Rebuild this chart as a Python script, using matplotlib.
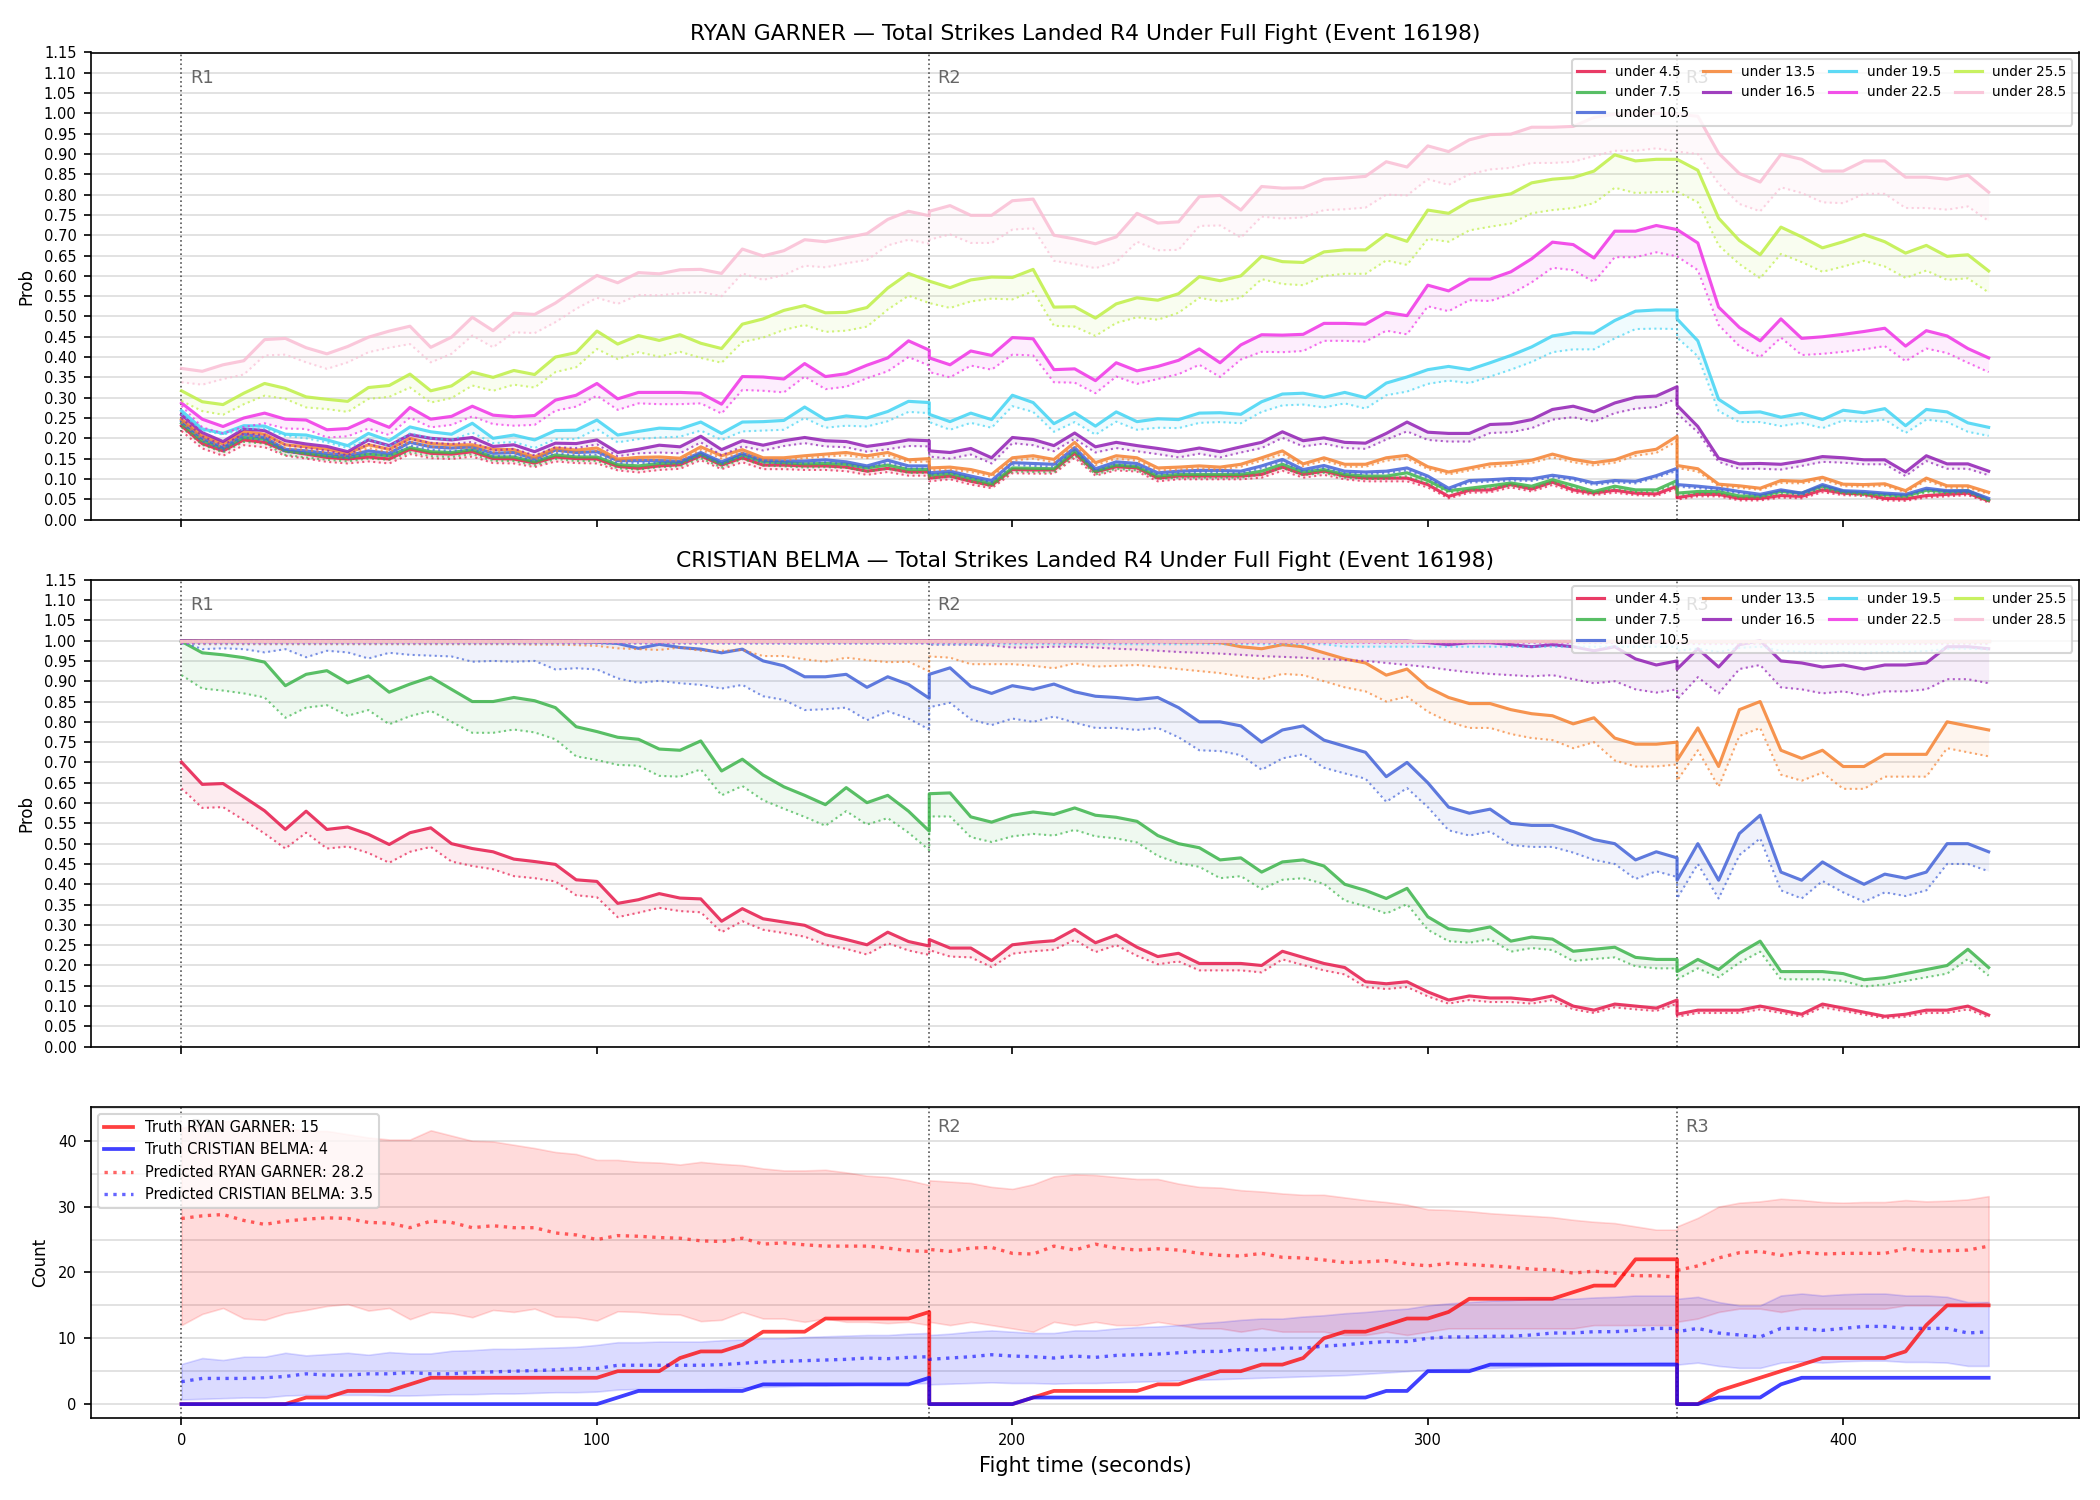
import matplotlib
matplotlib.use("Agg")
import matplotlib.pyplot as plt
from matplotlib.ticker import MultipleLocator
from matplotlib.transforms import blended_transform_factory

# Eixo de tempo: cada round reinicia no limite, por isso 180 e 360 aparecem duas vezes
t = list(range(0, 181, 5)) + list(range(180, 361, 5)) + list(range(360, 436, 5))
round_starts = [0, 180, 360]
round_names = ['R1', 'R2', 'R3']

line_labels = ['under 4.5', 'under 7.5', 'under 10.5', 'under 13.5', 'under 16.5',
               'under 19.5', 'under 22.5', 'under 25.5', 'under 28.5']
line_colors = ['#e6194b', '#3cb44b', '#4363d8', '#f58231', '#911eb4',
               '#42d4f4', '#f032e6', '#bfef45', '#fabed4']

# ---------------- RYAN GARNER (linha cheia = alto, pontilhada = baixo) ----------------
garner_u45 = [
    0.231, 0.187, 0.169, 0.196, 0.190, 0.169, 0.161, 0.153, 0.149, 0.154, 0.149, 0.173, 0.163, 0.161, 0.167, 0.150, 0.149, 0.139, 0.154, 0.150, 0.149, 0.131, 0.126, 0.132, 0.135, 0.157, 0.134, 0.152, 0.134, 0.134, 0.132, 0.132, 0.129, 0.119, 0.126, 0.117, 0.117,
    0.102, 0.107, 0.094, 0.084, 0.123, 0.122, 0.122, 0.163, 0.117, 0.130, 0.127, 0.102, 0.107, 0.107, 0.107, 0.107, 0.111, 0.129, 0.111, 0.119, 0.107, 0.102, 0.102, 0.102, 0.086, 0.057, 0.072, 0.073, 0.086, 0.075, 0.092, 0.073, 0.065, 0.072, 0.065, 0.063, 0.082,
    0.054, 0.062, 0.062, 0.052, 0.052, 0.059, 0.057, 0.073, 0.065, 0.063, 0.052, 0.051, 0.059, 0.062, 0.065, 0.046]
garner_u45_lo = [
    0.218, 0.175, 0.157, 0.183, 0.178, 0.157, 0.150, 0.142, 0.138, 0.143, 0.138, 0.161, 0.151, 0.149, 0.155, 0.139, 0.138, 0.129, 0.143, 0.139, 0.138, 0.121, 0.116, 0.122, 0.125, 0.146, 0.124, 0.141, 0.124, 0.124, 0.122, 0.122, 0.119, 0.110, 0.117, 0.108, 0.108,
    0.094, 0.099, 0.086, 0.077, 0.114, 0.113, 0.113, 0.152, 0.108, 0.121, 0.118, 0.094, 0.099, 0.099, 0.099, 0.099, 0.103, 0.120, 0.103, 0.110, 0.099, 0.094, 0.094, 0.094, 0.079, 0.052, 0.066, 0.067, 0.079, 0.069, 0.085, 0.067, 0.060, 0.066, 0.060, 0.058, 0.076,
    0.049, 0.057, 0.057, 0.047, 0.047, 0.054, 0.052, 0.067, 0.060, 0.058, 0.047, 0.046, 0.054, 0.057, 0.060, 0.042]
garner_u75 = [
    0.237, 0.194, 0.175, 0.202, 0.198, 0.169, 0.163, 0.157, 0.153, 0.161, 0.157, 0.177, 0.167, 0.165, 0.172, 0.154, 0.154, 0.142, 0.159, 0.154, 0.154, 0.135, 0.132, 0.138, 0.140, 0.161, 0.137, 0.159, 0.142, 0.140, 0.137, 0.138, 0.136, 0.127, 0.134, 0.123, 0.123,
    0.109, 0.113, 0.101, 0.088, 0.127, 0.126, 0.125, 0.169, 0.119, 0.134, 0.130, 0.107, 0.111, 0.111, 0.111, 0.111, 0.119, 0.136, 0.117, 0.123, 0.111, 0.107, 0.107, 0.115, 0.096, 0.071, 0.077, 0.083, 0.090, 0.082, 0.098, 0.084, 0.069, 0.082, 0.073, 0.073, 0.096,
    0.065, 0.069, 0.069, 0.058, 0.058, 0.069, 0.065, 0.082, 0.069, 0.065, 0.061, 0.058, 0.072, 0.069, 0.071, 0.048]
garner_u75_lo = [
    0.227, 0.184, 0.165, 0.191, 0.187, 0.159, 0.153, 0.147, 0.143, 0.150, 0.147, 0.166, 0.156, 0.154, 0.161, 0.144, 0.144, 0.133, 0.149, 0.144, 0.144, 0.126, 0.123, 0.129, 0.131, 0.151, 0.128, 0.149, 0.133, 0.131, 0.128, 0.129, 0.127, 0.118, 0.125, 0.115, 0.115,
    0.102, 0.105, 0.094, 0.082, 0.118, 0.117, 0.116, 0.158, 0.111, 0.125, 0.121, 0.100, 0.103, 0.103, 0.103, 0.103, 0.111, 0.127, 0.109, 0.115, 0.103, 0.100, 0.100, 0.107, 0.089, 0.066, 0.072, 0.077, 0.084, 0.076, 0.091, 0.078, 0.064, 0.076, 0.068, 0.068, 0.089,
    0.060, 0.064, 0.064, 0.054, 0.054, 0.064, 0.060, 0.076, 0.064, 0.060, 0.057, 0.054, 0.067, 0.064, 0.066, 0.045]
garner_u105 = [
    0.243, 0.200, 0.177, 0.210, 0.202, 0.173, 0.169, 0.163, 0.157, 0.169, 0.163, 0.190, 0.179, 0.176, 0.179, 0.163, 0.165, 0.149, 0.171, 0.165, 0.167, 0.145, 0.145, 0.145, 0.143, 0.165, 0.142, 0.163, 0.146, 0.144, 0.144, 0.147, 0.142, 0.132, 0.146, 0.132, 0.132,
    0.115, 0.119, 0.107, 0.096, 0.140, 0.138, 0.136, 0.177, 0.125, 0.142, 0.138, 0.115, 0.119, 0.121, 0.121, 0.119, 0.132, 0.148, 0.123, 0.133, 0.119, 0.117, 0.119, 0.127, 0.107, 0.077, 0.096, 0.098, 0.101, 0.100, 0.109, 0.102, 0.090, 0.096, 0.094, 0.108, 0.126,
    0.086, 0.082, 0.077, 0.069, 0.062, 0.073, 0.065, 0.086, 0.071, 0.069, 0.065, 0.062, 0.077, 0.071, 0.071, 0.052]
garner_u105_lo = [
    0.236, 0.193, 0.170, 0.202, 0.195, 0.166, 0.162, 0.156, 0.150, 0.162, 0.156, 0.182, 0.172, 0.169, 0.172, 0.156, 0.158, 0.143, 0.164, 0.158, 0.160, 0.139, 0.139, 0.139, 0.137, 0.158, 0.136, 0.156, 0.140, 0.138, 0.138, 0.141, 0.136, 0.126, 0.140, 0.126, 0.126,
    0.110, 0.114, 0.102, 0.091, 0.134, 0.132, 0.130, 0.170, 0.119, 0.136, 0.132, 0.110, 0.114, 0.116, 0.116, 0.114, 0.126, 0.142, 0.117, 0.127, 0.114, 0.112, 0.114, 0.121, 0.102, 0.073, 0.091, 0.093, 0.096, 0.095, 0.104, 0.097, 0.085, 0.091, 0.089, 0.103, 0.120,
    0.081, 0.077, 0.073, 0.065, 0.058, 0.069, 0.061, 0.081, 0.067, 0.065, 0.061, 0.058, 0.073, 0.067, 0.067, 0.049]
garner_u135 = [
    0.247, 0.206, 0.186, 0.217, 0.210, 0.184, 0.179, 0.173, 0.163, 0.184, 0.173, 0.200, 0.187, 0.184, 0.184, 0.173, 0.172, 0.154, 0.176, 0.171, 0.176, 0.149, 0.153, 0.154, 0.151, 0.179, 0.157, 0.172, 0.152, 0.152, 0.157, 0.161, 0.165, 0.157, 0.165, 0.147, 0.150,
    0.127, 0.129, 0.123, 0.111, 0.152, 0.157, 0.148, 0.190, 0.140, 0.157, 0.152, 0.127, 0.129, 0.132, 0.129, 0.136, 0.152, 0.169, 0.137, 0.152, 0.136, 0.136, 0.152, 0.158, 0.130, 0.117, 0.127, 0.137, 0.140, 0.146, 0.161, 0.148, 0.140, 0.147, 0.165, 0.173, 0.205,
    0.133, 0.125, 0.087, 0.083, 0.077, 0.096, 0.094, 0.104, 0.087, 0.086, 0.088, 0.071, 0.102, 0.083, 0.083, 0.067]
garner_u135_lo = [
    0.240, 0.198, 0.178, 0.209, 0.202, 0.176, 0.171, 0.165, 0.156, 0.176, 0.166, 0.192, 0.179, 0.177, 0.177, 0.166, 0.165, 0.148, 0.169, 0.164, 0.169, 0.143, 0.147, 0.147, 0.145, 0.172, 0.150, 0.165, 0.146, 0.146, 0.151, 0.155, 0.158, 0.151, 0.158, 0.141, 0.143,
    0.121, 0.123, 0.117, 0.105, 0.145, 0.150, 0.141, 0.182, 0.134, 0.150, 0.145, 0.121, 0.123, 0.126, 0.123, 0.130, 0.145, 0.161, 0.131, 0.145, 0.130, 0.130, 0.145, 0.150, 0.124, 0.111, 0.121, 0.130, 0.133, 0.139, 0.153, 0.141, 0.133, 0.140, 0.157, 0.164, 0.193,
    0.127, 0.118, 0.082, 0.078, 0.073, 0.090, 0.089, 0.098, 0.082, 0.081, 0.083, 0.067, 0.096, 0.078, 0.078, 0.063]
garner_u165 = [
    0.258, 0.214, 0.192, 0.223, 0.219, 0.194, 0.186, 0.180, 0.167, 0.196, 0.182, 0.209, 0.200, 0.196, 0.202, 0.180, 0.184, 0.167, 0.188, 0.187, 0.196, 0.165, 0.173, 0.183, 0.179, 0.205, 0.172, 0.194, 0.183, 0.194, 0.202, 0.194, 0.192, 0.180, 0.187, 0.196, 0.194,
    0.169, 0.165, 0.175, 0.152, 0.202, 0.197, 0.182, 0.213, 0.179, 0.190, 0.182, 0.175, 0.167, 0.176, 0.167, 0.179, 0.190, 0.216, 0.194, 0.201, 0.190, 0.188, 0.212, 0.240, 0.215, 0.212, 0.212, 0.234, 0.236, 0.246, 0.271, 0.279, 0.265, 0.287, 0.301, 0.304, 0.327,
    0.281, 0.229, 0.151, 0.137, 0.138, 0.136, 0.144, 0.155, 0.152, 0.147, 0.147, 0.117, 0.157, 0.137, 0.137, 0.119]
garner_u165_lo = [
    0.250, 0.205, 0.183, 0.212, 0.208, 0.184, 0.176, 0.170, 0.158, 0.186, 0.172, 0.198, 0.189, 0.186, 0.191, 0.170, 0.174, 0.158, 0.178, 0.176, 0.185, 0.156, 0.163, 0.165, 0.163, 0.190, 0.158, 0.180, 0.170, 0.181, 0.188, 0.180, 0.178, 0.167, 0.173, 0.181, 0.180,
    0.155, 0.150, 0.160, 0.138, 0.188, 0.183, 0.168, 0.199, 0.165, 0.176, 0.168, 0.161, 0.153, 0.162, 0.153, 0.165, 0.176, 0.201, 0.180, 0.187, 0.176, 0.174, 0.197, 0.217, 0.196, 0.192, 0.192, 0.213, 0.215, 0.225, 0.246, 0.252, 0.241, 0.262, 0.273, 0.277, 0.298,
    0.261, 0.215, 0.142, 0.125, 0.125, 0.123, 0.132, 0.142, 0.140, 0.136, 0.136, 0.107, 0.144, 0.125, 0.125, 0.109]
garner_u195 = [
    0.268, 0.223, 0.212, 0.231, 0.230, 0.210, 0.208, 0.196, 0.182, 0.212, 0.194, 0.228, 0.216, 0.210, 0.237, 0.200, 0.208, 0.196, 0.219, 0.220, 0.245, 0.208, 0.217, 0.225, 0.223, 0.240, 0.212, 0.240, 0.241, 0.244, 0.277, 0.246, 0.255, 0.250, 0.266, 0.291, 0.288,
    0.259, 0.241, 0.262, 0.246, 0.306, 0.288, 0.236, 0.263, 0.230, 0.265, 0.241, 0.248, 0.246, 0.262, 0.263, 0.259, 0.290, 0.309, 0.311, 0.301, 0.313, 0.300, 0.336, 0.351, 0.369, 0.377, 0.369, 0.386, 0.404, 0.425, 0.452, 0.460, 0.459, 0.490, 0.513, 0.516, 0.516,
    0.494, 0.440, 0.296, 0.263, 0.265, 0.252, 0.261, 0.246, 0.269, 0.263, 0.273, 0.231, 0.271, 0.265, 0.238, 0.227]
garner_u195_lo = [
    0.260, 0.220, 0.209, 0.223, 0.224, 0.206, 0.200, 0.190, 0.176, 0.198, 0.180, 0.212, 0.200, 0.196, 0.214, 0.188, 0.191, 0.176, 0.198, 0.198, 0.223, 0.190, 0.198, 0.202, 0.204, 0.219, 0.196, 0.217, 0.219, 0.221, 0.250, 0.226, 0.231, 0.229, 0.242, 0.265, 0.262,
    0.240, 0.221, 0.238, 0.226, 0.279, 0.265, 0.216, 0.240, 0.209, 0.241, 0.221, 0.226, 0.225, 0.238, 0.240, 0.237, 0.265, 0.281, 0.283, 0.276, 0.286, 0.273, 0.306, 0.315, 0.334, 0.342, 0.336, 0.352, 0.369, 0.388, 0.412, 0.419, 0.419, 0.446, 0.469, 0.470, 0.469,
    0.448, 0.402, 0.267, 0.240, 0.240, 0.230, 0.238, 0.225, 0.244, 0.240, 0.246, 0.213, 0.246, 0.240, 0.216, 0.206]
garner_u225 = [
    0.287, 0.247, 0.229, 0.250, 0.262, 0.247, 0.245, 0.221, 0.224, 0.247, 0.227, 0.276, 0.247, 0.254, 0.279, 0.257, 0.253, 0.256, 0.294, 0.306, 0.335, 0.297, 0.313, 0.313, 0.313, 0.311, 0.284, 0.352, 0.351, 0.346, 0.384, 0.352, 0.359, 0.380, 0.398, 0.440, 0.417,
    0.398, 0.381, 0.415, 0.404, 0.448, 0.445, 0.369, 0.371, 0.342, 0.386, 0.366, 0.377, 0.392, 0.420, 0.386, 0.430, 0.455, 0.454, 0.456, 0.483, 0.483, 0.481, 0.510, 0.502, 0.577, 0.563, 0.592, 0.592, 0.610, 0.642, 0.683, 0.677, 0.644, 0.710, 0.710, 0.724, 0.714,
    0.714, 0.681, 0.523, 0.473, 0.440, 0.494, 0.446, 0.450, 0.456, 0.463, 0.471, 0.427, 0.465, 0.452, 0.421, 0.398]
garner_u225_lo = [
    0.280, 0.227, 0.212, 0.228, 0.237, 0.224, 0.223, 0.202, 0.205, 0.224, 0.208, 0.251, 0.227, 0.233, 0.254, 0.235, 0.231, 0.233, 0.268, 0.278, 0.305, 0.270, 0.286, 0.284, 0.284, 0.286, 0.261, 0.319, 0.317, 0.313, 0.352, 0.321, 0.327, 0.348, 0.365, 0.400, 0.379,
    0.363, 0.350, 0.379, 0.369, 0.406, 0.404, 0.338, 0.337, 0.311, 0.352, 0.334, 0.346, 0.358, 0.381, 0.351, 0.394, 0.413, 0.412, 0.415, 0.440, 0.440, 0.438, 0.465, 0.456, 0.525, 0.513, 0.540, 0.538, 0.555, 0.584, 0.620, 0.614, 0.585, 0.646, 0.646, 0.658, 0.648,
    0.648, 0.614, 0.479, 0.427, 0.400, 0.448, 0.405, 0.408, 0.413, 0.419, 0.427, 0.390, 0.421, 0.410, 0.386, 0.363]
garner_u255 = [
    0.317, 0.290, 0.283, 0.311, 0.335, 0.323, 0.302, 0.296, 0.291, 0.325, 0.330, 0.358, 0.317, 0.329, 0.363, 0.350, 0.367, 0.357, 0.400, 0.411, 0.464, 0.432, 0.453, 0.441, 0.455, 0.434, 0.421, 0.481, 0.494, 0.515, 0.527, 0.509, 0.510, 0.522, 0.570, 0.606, 0.587,
    0.587, 0.571, 0.590, 0.597, 0.596, 0.616, 0.523, 0.524, 0.496, 0.531, 0.546, 0.540, 0.556, 0.598, 0.588, 0.600, 0.648, 0.635, 0.633, 0.659, 0.664, 0.664, 0.702, 0.685, 0.762, 0.754, 0.784, 0.794, 0.802, 0.829, 0.838, 0.842, 0.858, 0.898, 0.883, 0.887, 0.887,
    0.887, 0.860, 0.742, 0.687, 0.652, 0.720, 0.696, 0.669, 0.684, 0.702, 0.684, 0.656, 0.675, 0.648, 0.652, 0.612]
garner_u255_lo = [
    0.292, 0.267, 0.258, 0.284, 0.305, 0.297, 0.276, 0.272, 0.265, 0.297, 0.302, 0.325, 0.288, 0.299, 0.330, 0.317, 0.332, 0.325, 0.363, 0.375, 0.420, 0.395, 0.412, 0.401, 0.413, 0.398, 0.386, 0.437, 0.448, 0.467, 0.479, 0.462, 0.465, 0.475, 0.517, 0.551, 0.533,
    0.533, 0.521, 0.537, 0.544, 0.542, 0.562, 0.477, 0.475, 0.452, 0.484, 0.498, 0.492, 0.509, 0.546, 0.537, 0.546, 0.592, 0.580, 0.577, 0.600, 0.605, 0.605, 0.638, 0.627, 0.691, 0.684, 0.712, 0.721, 0.729, 0.754, 0.762, 0.767, 0.779, 0.817, 0.804, 0.806, 0.808,
    0.808, 0.781, 0.675, 0.629, 0.594, 0.654, 0.634, 0.610, 0.623, 0.637, 0.623, 0.595, 0.613, 0.590, 0.594, 0.559]
garner_u285 = [
    0.372, 0.365, 0.381, 0.391, 0.443, 0.446, 0.423, 0.408, 0.426, 0.449, 0.464, 0.476, 0.424, 0.449, 0.498, 0.465, 0.508, 0.505, 0.533, 0.568, 0.601, 0.583, 0.608, 0.605, 0.615, 0.616, 0.606, 0.666, 0.649, 0.662, 0.689, 0.684, 0.694, 0.704, 0.739, 0.759, 0.748,
    0.759, 0.773, 0.749, 0.749, 0.785, 0.789, 0.700, 0.691, 0.679, 0.696, 0.754, 0.730, 0.733, 0.795, 0.798, 0.762, 0.820, 0.816, 0.817, 0.838, 0.841, 0.845, 0.881, 0.868, 0.920, 0.906, 0.935, 0.948, 0.949, 0.966, 0.966, 0.968, 0.990, 0.998, 1.000, 1.000, 0.998,
    0.998, 0.993, 0.902, 0.852, 0.831, 0.899, 0.887, 0.858, 0.858, 0.883, 0.883, 0.843, 0.843, 0.838, 0.848, 0.806]
garner_u285_lo = [
    0.338, 0.332, 0.346, 0.357, 0.404, 0.406, 0.387, 0.371, 0.387, 0.412, 0.423, 0.432, 0.387, 0.408, 0.453, 0.424, 0.461, 0.459, 0.486, 0.519, 0.546, 0.531, 0.553, 0.552, 0.557, 0.560, 0.550, 0.606, 0.590, 0.602, 0.625, 0.621, 0.631, 0.639, 0.675, 0.689, 0.679,
    0.689, 0.702, 0.681, 0.681, 0.714, 0.717, 0.637, 0.629, 0.619, 0.634, 0.684, 0.663, 0.664, 0.723, 0.724, 0.694, 0.746, 0.741, 0.744, 0.762, 0.764, 0.768, 0.800, 0.798, 0.838, 0.824, 0.850, 0.862, 0.866, 0.878, 0.878, 0.881, 0.895, 0.908, 0.908, 0.914, 0.906,
    0.906, 0.900, 0.827, 0.777, 0.759, 0.818, 0.804, 0.781, 0.779, 0.802, 0.802, 0.767, 0.767, 0.763, 0.771, 0.735]

# ---------------- CRISTIAN BELMA ----------------
belma_u45 = [
    0.701, 0.646, 0.648, 0.615, 0.581, 0.535, 0.580, 0.535, 0.541, 0.523, 0.498, 0.527, 0.539, 0.500, 0.488, 0.480, 0.462, 0.456, 0.449, 0.411, 0.407, 0.353, 0.362, 0.377, 0.366, 0.364, 0.309, 0.340, 0.315, 0.307, 0.299, 0.276, 0.264, 0.251, 0.282, 0.259, 0.248,
    0.264, 0.243, 0.243, 0.212, 0.251, 0.257, 0.261, 0.289, 0.256, 0.275, 0.245, 0.222, 0.230, 0.205, 0.205, 0.205, 0.200, 0.235, 0.220, 0.205, 0.195, 0.160, 0.155, 0.160, 0.135, 0.115, 0.125, 0.120, 0.120, 0.115, 0.125, 0.100, 0.090, 0.105, 0.100, 0.095, 0.115,
    0.080, 0.090, 0.090, 0.090, 0.100, 0.090, 0.080, 0.105, 0.095, 0.085, 0.075, 0.080, 0.090, 0.090, 0.100, 0.078]
belma_u45_lo = [
    0.636, 0.588, 0.590, 0.558, 0.525, 0.488, 0.527, 0.488, 0.493, 0.477, 0.453, 0.480, 0.492, 0.456, 0.445, 0.437, 0.420, 0.415, 0.407, 0.373, 0.368, 0.319, 0.330, 0.342, 0.334, 0.331, 0.282, 0.309, 0.288, 0.280, 0.271, 0.251, 0.241, 0.227, 0.255, 0.237, 0.226,
    0.238, 0.222, 0.220, 0.196, 0.229, 0.235, 0.239, 0.263, 0.233, 0.250, 0.224, 0.203, 0.210, 0.188, 0.188, 0.188, 0.183, 0.215, 0.201, 0.188, 0.178, 0.147, 0.142, 0.147, 0.124, 0.106, 0.115, 0.110, 0.110, 0.106, 0.115, 0.092, 0.083, 0.097, 0.092, 0.088, 0.106,
    0.074, 0.083, 0.083, 0.083, 0.092, 0.083, 0.074, 0.097, 0.088, 0.079, 0.070, 0.074, 0.083, 0.083, 0.092, 0.072]
belma_u75 = [
    0.998, 0.970, 0.965, 0.958, 0.947, 0.889, 0.917, 0.926, 0.896, 0.913, 0.873, 0.893, 0.910, 0.880, 0.850, 0.850, 0.860, 0.852, 0.835, 0.788, 0.776, 0.762, 0.757, 0.733, 0.730, 0.753, 0.679, 0.708, 0.669, 0.640, 0.619, 0.596, 0.638, 0.601, 0.619, 0.580, 0.531,
    0.623, 0.625, 0.566, 0.553, 0.570, 0.578, 0.572, 0.588, 0.570, 0.565, 0.555, 0.520, 0.500, 0.490, 0.460, 0.465, 0.430, 0.455, 0.460, 0.445, 0.400, 0.385, 0.365, 0.390, 0.320, 0.290, 0.285, 0.295, 0.260, 0.270, 0.265, 0.235, 0.240, 0.245, 0.220, 0.215, 0.215,
    0.185, 0.215, 0.190, 0.230, 0.260, 0.185, 0.185, 0.185, 0.180, 0.165, 0.170, 0.180, 0.190, 0.200, 0.240, 0.195]
belma_u75_lo = [
    0.915, 0.882, 0.877, 0.870, 0.860, 0.810, 0.835, 0.841, 0.815, 0.829, 0.794, 0.814, 0.827, 0.800, 0.773, 0.773, 0.781, 0.774, 0.757, 0.715, 0.706, 0.694, 0.692, 0.667, 0.665, 0.683, 0.619, 0.642, 0.607, 0.586, 0.566, 0.544, 0.580, 0.547, 0.563, 0.527, 0.484,
    0.567, 0.567, 0.516, 0.504, 0.518, 0.524, 0.520, 0.534, 0.518, 0.513, 0.503, 0.470, 0.452, 0.443, 0.415, 0.420, 0.388, 0.411, 0.415, 0.401, 0.360, 0.346, 0.328, 0.351, 0.288, 0.260, 0.256, 0.265, 0.234, 0.243, 0.238, 0.211, 0.216, 0.220, 0.198, 0.193, 0.193,
    0.166, 0.193, 0.171, 0.207, 0.234, 0.166, 0.166, 0.166, 0.162, 0.148, 0.153, 0.162, 0.171, 0.180, 0.216, 0.175]
belma_u105 = [
    1.000, 0.999, 0.999, 0.999, 0.999, 0.999, 0.999, 0.999, 0.999, 0.999, 0.999, 0.999, 0.999, 0.999, 0.999, 0.999, 0.999, 0.998, 0.998, 0.998, 0.996, 0.993, 0.981, 0.991, 0.983, 0.979, 0.970, 0.979, 0.950, 0.938, 0.911, 0.911, 0.917, 0.885, 0.911, 0.892, 0.858,
    0.917, 0.933, 0.887, 0.870, 0.889, 0.880, 0.893, 0.874, 0.863, 0.860, 0.855, 0.860, 0.835, 0.800, 0.800, 0.790, 0.750, 0.780, 0.790, 0.755, 0.740, 0.725, 0.665, 0.700, 0.650, 0.590, 0.575, 0.585, 0.550, 0.545, 0.545, 0.530, 0.510, 0.500, 0.460, 0.480, 0.465,
    0.410, 0.500, 0.410, 0.525, 0.570, 0.430, 0.410, 0.455, 0.425, 0.400, 0.425, 0.415, 0.430, 0.500, 0.500, 0.480]
belma_u105_lo = [
    0.998, 0.979, 0.981, 0.979, 0.971, 0.979, 0.959, 0.975, 0.971, 0.956, 0.970, 0.965, 0.963, 0.961, 0.948, 0.950, 0.948, 0.950, 0.929, 0.932, 0.929, 0.907, 0.896, 0.901, 0.895, 0.891, 0.882, 0.891, 0.863, 0.854, 0.829, 0.831, 0.835, 0.804, 0.826, 0.808, 0.781,
    0.836, 0.847, 0.806, 0.792, 0.808, 0.800, 0.813, 0.798, 0.785, 0.785, 0.780, 0.785, 0.762, 0.730, 0.728, 0.718, 0.682, 0.710, 0.720, 0.687, 0.673, 0.660, 0.603, 0.637, 0.590, 0.533, 0.520, 0.530, 0.497, 0.492, 0.492, 0.478, 0.460, 0.450, 0.413, 0.432, 0.418,
    0.365, 0.450, 0.365, 0.472, 0.513, 0.385, 0.365, 0.408, 0.380, 0.357, 0.380, 0.371, 0.385, 0.450, 0.450, 0.432]
belma_u135 = (
    [0.999] * 37
    + [0.999, 0.999, 0.999, 0.999, 0.999, 0.999, 0.999, 0.999, 0.999, 0.998, 0.998, 0.998, 0.997, 0.997, 0.995, 0.985, 0.980, 0.990, 0.985, 0.970, 0.955, 0.945, 0.915, 0.930, 0.885, 0.860, 0.845, 0.845, 0.830, 0.820, 0.815, 0.795, 0.810, 0.760, 0.745, 0.745, 0.750]
    + [0.705, 0.785, 0.690, 0.830, 0.850, 0.730, 0.710, 0.730, 0.690, 0.690, 0.720, 0.720, 0.720, 0.800, 0.790, 0.780])
belma_u135_lo = [
    0.995, 0.991, 0.991, 0.991, 0.991, 0.991, 0.991, 0.991, 0.991, 0.991, 0.991, 0.991, 0.991, 0.991, 0.991, 0.991, 0.991, 0.990, 0.990, 0.989, 0.987, 0.981, 0.979, 0.977, 0.983, 0.975, 0.975, 0.977, 0.962, 0.962, 0.954, 0.948, 0.958, 0.952, 0.947, 0.948, 0.924,
    0.961, 0.958, 0.942, 0.942, 0.942, 0.938, 0.932, 0.944, 0.936, 0.938, 0.940, 0.935, 0.930, 0.925, 0.920, 0.912, 0.905, 0.918, 0.915, 0.900, 0.885, 0.875, 0.850, 0.862, 0.825, 0.800, 0.785, 0.785, 0.770, 0.760, 0.755, 0.735, 0.750, 0.705, 0.690, 0.690, 0.695,
    0.655, 0.730, 0.640, 0.765, 0.785, 0.670, 0.655, 0.675, 0.635, 0.635, 0.665, 0.665, 0.665, 0.735, 0.725, 0.715]
belma_u165 = (
    [0.999] * 37
    + [0.999] * 24
    + [0.995, 0.990, 0.995, 0.995, 0.990, 0.985, 0.990, 0.985, 0.975, 0.985, 0.955, 0.940, 0.950]
    + [0.930, 0.980, 0.935, 0.990, 1.000, 0.950, 0.945, 0.935, 0.940, 0.930, 0.940, 0.940, 0.945, 0.985, 0.985, 0.980])
belma_u165_lo = (
    [0.993] * 37
    + [0.990, 0.990, 0.990, 0.988, 0.983, 0.983, 0.985, 0.985, 0.983, 0.980, 0.978, 0.975, 0.972, 0.970, 0.968, 0.965, 0.962, 0.960, 0.958, 0.955, 0.952, 0.950, 0.945, 0.940, 0.935, 0.928, 0.922, 0.918, 0.915, 0.912, 0.915, 0.905, 0.895, 0.900, 0.880, 0.872, 0.880]
    + [0.855, 0.910, 0.870, 0.930, 0.940, 0.885, 0.880, 0.870, 0.875, 0.865, 0.875, 0.875, 0.880, 0.905, 0.905, 0.895])
belma_u195 = [0.999] * 37 + [0.999] * 37 + [0.998] * 16
belma_u195_lo = (
    [0.993] * 37
    + [0.991] * 20 + [0.985] * 17
    + [0.975, 0.980, 0.972, 0.982, 0.985, 0.975, 0.972, 0.970, 0.972, 0.970, 0.972, 0.972, 0.974, 0.980, 0.980, 0.978])
belma_u225 = [0.999] * 37 + [0.999] * 37 + [0.999] * 16
belma_u225_lo = [0.995] * 37 + [0.994] * 37 + [0.991] * 16
belma_u255 = [0.999] * 37 + [0.999] * 37 + [0.999] * 16
belma_u255_lo = [0.997] * 37 + [0.996] * 37 + [0.995] * 16
belma_u285 = [0.999] * 37 + [0.999] * 37 + [0.999] * 16
belma_u285_lo = [0.998] * 37 + [0.998] * 37 + [0.997] * 16

# ---------------- Contagem total ----------------
truth_garner = (
    [0, 0, 0, 0, 0, 0, 1, 1, 2, 2, 2, 3, 4, 4, 4, 4, 4, 4, 4, 4, 4, 5, 5, 5, 7, 8, 8, 9, 11, 11, 11, 13, 13, 13, 13, 13, 14]
    + [0, 0, 0, 0, 0, 1, 2, 2, 2, 2, 2, 3, 3, 4, 5, 5, 6, 6, 7, 10, 11, 11, 12, 13, 13, 14, 16, 16, 16, 16, 16, 17, 18, 18, 22, 22, 22]
    + [0, 0, 2, 3, 4, 5, 6, 7, 7, 7, 7, 8, 12, 15, 15, 15])
truth_belma = (
    [0] * 21 + [1, 2, 2, 2, 2, 2, 2, 3, 3, 3, 3, 3, 3, 3, 3, 4]
    + [0, 0, 0, 0, 0, 1] + [1] * 16 + [2, 2, 5, 5, 5] + [6] * 10
    + [0, 0, 1, 1, 1, 3] + [4] * 10)
pred_garner = [
    28.2, 28.6, 28.8, 27.9, 27.3, 27.8, 28.1, 28.3, 28.2, 27.6, 27.5, 26.8, 27.8, 27.6, 26.8, 27.1, 26.8, 26.8, 26.0, 25.7, 25.0, 25.6, 25.5, 25.3, 25.2, 24.8, 24.7, 25.2, 24.3, 24.5, 24.2, 24.0, 24.0, 24.0, 23.7, 23.3, 23.2,
    23.5, 23.2, 23.7, 23.8, 22.9, 22.8, 24.0, 23.4, 24.3, 23.7, 23.4, 23.6, 23.4, 22.9, 22.6, 22.5, 22.9, 22.3, 22.2, 21.9, 21.5, 21.6, 21.8, 21.3, 21.0, 21.4, 21.2, 21.0, 20.8, 20.5, 20.4, 19.9, 20.2, 19.9, 19.5, 19.5, 19.3,
    20.3, 21.0, 22.2, 23.0, 23.2, 22.6, 23.1, 22.8, 22.9, 22.9, 22.9, 23.6, 23.2, 23.3, 23.4, 24.0]
pred_garner_hi = [
    42.0, 42.5, 43.0, 43.0, 42.5, 42.0, 41.5, 41.5, 41.0, 40.5, 40.2, 40.2, 41.6, 40.8, 40.0, 39.9, 39.4, 38.9, 38.3, 38.0, 37.1, 37.1, 36.8, 36.7, 36.4, 36.8, 36.5, 36.3, 35.8, 35.5, 35.5, 35.6, 35.2, 34.7, 34.5, 34.0, 33.3,
    34.0, 33.8, 33.6, 33.0, 32.7, 33.4, 34.6, 34.9, 34.8, 34.5, 34.2, 34.2, 33.5, 33.0, 32.9, 32.5, 32.3, 32.0, 31.8, 31.8, 31.4, 31.0, 30.7, 30.3, 29.6, 29.5, 29.3, 29.0, 28.8, 28.6, 28.4, 28.0, 27.7, 27.5, 27.0, 26.5, 26.5,
    27.0, 28.3, 30.0, 30.6, 30.8, 31.2, 31.0, 30.7, 30.6, 30.7, 30.7, 31.0, 30.8, 30.9, 31.1, 31.6]
pred_garner_lo = [
    12.0, 13.7, 14.6, 13.0, 12.8, 13.8, 14.3, 14.9, 15.2, 14.2, 14.6, 12.9, 14.0, 13.8, 13.2, 14.3, 14.0, 14.5, 13.3, 13.2, 12.7, 14.1, 14.0, 13.7, 13.6, 12.6, 12.8, 14.0, 13.0, 13.0, 12.5, 13.0, 12.5, 12.5, 12.3, 12.5, 12.0,
    12.5, 12.0, 12.5, 12.0, 11.5, 11.0, 12.5, 12.0, 12.5, 12.0, 12.0, 12.5, 12.0, 11.5, 11.5, 11.0, 11.5, 11.0, 11.0, 11.0, 10.5, 10.5, 11.0, 10.5, 11.0, 11.5, 11.5, 11.5, 11.5, 11.5, 11.5, 11.5, 12.0, 12.0, 12.0, 12.0, 12.0,
    12.5, 13.0, 14.0, 14.5, 14.5, 14.0, 14.5, 14.5, 14.5, 14.5, 14.5, 15.0, 15.0, 15.0, 15.0, 15.5]
pred_belma = [
    3.4, 3.9, 3.9, 3.9, 4.0, 4.2, 4.6, 4.4, 4.4, 4.6, 4.6, 4.8, 4.6, 4.6, 4.8, 4.9, 5.0, 5.1, 5.2, 5.4, 5.4, 5.9, 5.9, 5.9, 5.9, 5.9, 6.0, 6.2, 6.4, 6.5, 6.6, 6.7, 6.8, 7.0, 6.9, 7.1, 7.2,
    6.8, 7.0, 7.2, 7.5, 7.3, 7.2, 7.0, 7.3, 7.1, 7.4, 7.5, 7.6, 7.8, 8.0, 8.0, 8.3, 8.2, 8.5, 8.5, 8.8, 9.0, 9.3, 9.5, 9.5, 10.0, 10.2, 10.2, 10.3, 10.3, 10.5, 10.8, 10.8, 11.0, 11.0, 11.2, 11.5, 11.5,
    11.0, 11.5, 10.8, 10.5, 10.2, 11.5, 11.5, 11.2, 11.5, 11.8, 11.8, 11.5, 11.5, 11.5, 10.8, 11.0]
pred_belma_hi = [
    6.1, 7.0, 6.7, 7.2, 7.2, 7.8, 7.4, 7.6, 7.8, 7.5, 7.9, 7.7, 7.7, 8.1, 8.2, 8.4, 8.4, 8.5, 8.6, 8.7, 9.0, 9.4, 9.4, 9.5, 9.5, 9.5, 9.7, 9.8, 10.0, 10.0, 10.2, 10.3, 10.4, 10.5, 10.5, 10.7, 10.8,
    10.5, 10.7, 11.0, 11.2, 11.0, 10.8, 10.8, 11.2, 11.2, 11.5, 11.7, 11.8, 12.0, 12.3, 12.5, 12.8, 13.0, 13.0, 13.3, 13.5, 13.8, 14.0, 14.3, 14.5, 15.0, 15.3, 15.5, 15.7, 15.8, 16.0, 16.0, 16.0, 16.2, 16.3, 16.5, 16.5, 16.5,
    16.0, 16.3, 15.5, 15.0, 15.0, 16.5, 16.8, 16.5, 16.7, 16.8, 16.8, 16.5, 16.5, 16.3, 15.5, 15.5]
pred_belma_lo = [
    0.7, 0.8, 0.9, 1.0, 1.0, 1.3, 1.4, 1.4, 1.4, 1.4, 1.3, 1.3, 1.4, 1.5, 1.5, 1.6, 1.6, 1.7, 1.8, 1.8, 1.9, 2.2, 2.3, 2.3, 2.3, 2.3, 2.4, 2.5, 2.6, 2.7, 2.8, 2.8, 2.9, 3.0, 3.0, 3.1, 3.2,
    3.0, 3.1, 3.2, 3.3, 3.2, 3.2, 3.1, 3.2, 3.2, 3.3, 3.4, 3.5, 3.6, 3.7, 3.8, 3.9, 4.0, 4.1, 4.2, 4.3, 4.4, 4.6, 4.8, 5.0, 5.2, 5.3, 5.4, 5.5, 5.6, 5.7, 5.8, 5.9, 6.0, 6.1, 6.2, 6.3, 6.3,
    6.0, 6.3, 5.8, 5.5, 5.5, 6.3, 6.5, 6.3, 6.5, 6.6, 6.6, 6.4, 6.4, 6.3, 5.8, 5.8]

garner_hi = [garner_u45, garner_u75, garner_u105, garner_u135, garner_u165,
             garner_u195, garner_u225, garner_u255, garner_u285]
garner_lo = [garner_u45_lo, garner_u75_lo, garner_u105_lo, garner_u135_lo, garner_u165_lo,
             garner_u195_lo, garner_u225_lo, garner_u255_lo, garner_u285_lo]
belma_hi = [belma_u45, belma_u75, belma_u105, belma_u135, belma_u165,
            belma_u195, belma_u225, belma_u255, belma_u285]
belma_lo = [belma_u45_lo, belma_u75_lo, belma_u105_lo, belma_u135_lo, belma_u165_lo,
            belma_u195_lo, belma_u225_lo, belma_u255_lo, belma_u285_lo]

# Montando a figura
fig = plt.figure(figsize=(14, 10), dpi=150)
gs = fig.add_gridspec(3, 1, height_ratios=[3, 3, 2], left=0.0434, right=0.99,
                      top=0.965, bottom=0.0545, hspace=0.145)
ax1 = fig.add_subplot(gs[0])
ax2 = fig.add_subplot(gs[1], sharex=ax1)
ax3 = fig.add_subplot(gs[2], sharex=ax1)


def marca_rounds(ax):
    trans = blended_transform_factory(ax.transData, ax.transAxes)
    for x0, nome in zip(round_starts, round_names):
        ax.axvline(x0, color='#555555', linestyle=':', linewidth=0.8, zorder=1)
        ax.text(x0 + 2, 0.965, nome, transform=trans, va='top', ha='left',
                fontsize=8.5, color='#666666', zorder=1)


def painel_prob(ax, his, los, titulo):
    for hi, lo, cor, rot in zip(his, los, line_colors, line_labels):
        ax.fill_between(t, lo, hi, color=cor, alpha=0.08, linewidth=0)
        ax.plot(t, hi, color=cor, alpha=0.85, linewidth=1.5, label=rot)
        ax.plot(t, lo, color=cor, alpha=0.7, linewidth=1.0, linestyle=':')
    marca_rounds(ax)
    ax.set_ylim(0, 1.15)
    ax.yaxis.set_major_locator(MultipleLocator(0.05))
    ax.yaxis.set_major_formatter(plt.FormatStrFormatter('%.2f'))
    ax.grid(axis='y', color='#dddddd', linewidth=0.8)
    ax.set_axisbelow(True)
    ax.set_ylabel('Prob', fontsize=8)
    ax.set_title(titulo, fontsize=10.5)
    ax.tick_params(labelsize=7)
    leg = ax.legend(loc='upper right', ncol=4, fontsize=6.5, framealpha=0.8,
                    columnspacing=1.0)
    leg.set_zorder(5)
    plt.setp(ax.get_xticklabels(), visible=False)


painel_prob(ax1, garner_hi, garner_lo,
            'RYAN GARNER — Total Strikes Landed R4 Under Full Fight (Event 16198)')
painel_prob(ax2, belma_hi, belma_lo,
            'CRISTIAN BELMA — Total Strikes Landed R4 Under Full Fight (Event 16198)')

# Painel de contagem
ax3.fill_between(t, pred_garner_lo, pred_garner_hi, color='red', alpha=0.14, linewidth=0.8)
ax3.fill_between(t, pred_belma_lo, pred_belma_hi, color='blue', alpha=0.14, linewidth=0.8)
ax3.plot(t, truth_garner, color='red', alpha=0.75, linewidth=1.8, label='Truth RYAN GARNER: 15')
ax3.plot(t, truth_belma, color='blue', alpha=0.75, linewidth=1.8, label='Truth CRISTIAN BELMA: 4')
ax3.plot(t, pred_garner, color='red', alpha=0.6, linewidth=1.6, linestyle=':',
         label='Predicted RYAN GARNER: 28.2')
ax3.plot(t, pred_belma, color='blue', alpha=0.6, linewidth=1.6, linestyle=':',
         label='Predicted CRISTIAN BELMA: 3.5')
marca_rounds(ax3)
ax3.yaxis.set_major_locator(MultipleLocator(10))
ax3.yaxis.set_minor_locator(MultipleLocator(5))
ax3.tick_params(which='minor', length=0)
ax3.grid(axis='y', which='both', color='#dddddd', linewidth=0.8)
ax3.set_axisbelow(True)
ax3.set_ylabel('Count', fontsize=8)
ax3.set_xlabel('Fight time (seconds)', fontsize=10)
ax3.tick_params(labelsize=7)
leg3 = ax3.legend(loc='upper left', fontsize=7, framealpha=0.8)
leg3.set_zorder(5)

fig.savefig('out.png', dpi=150)
